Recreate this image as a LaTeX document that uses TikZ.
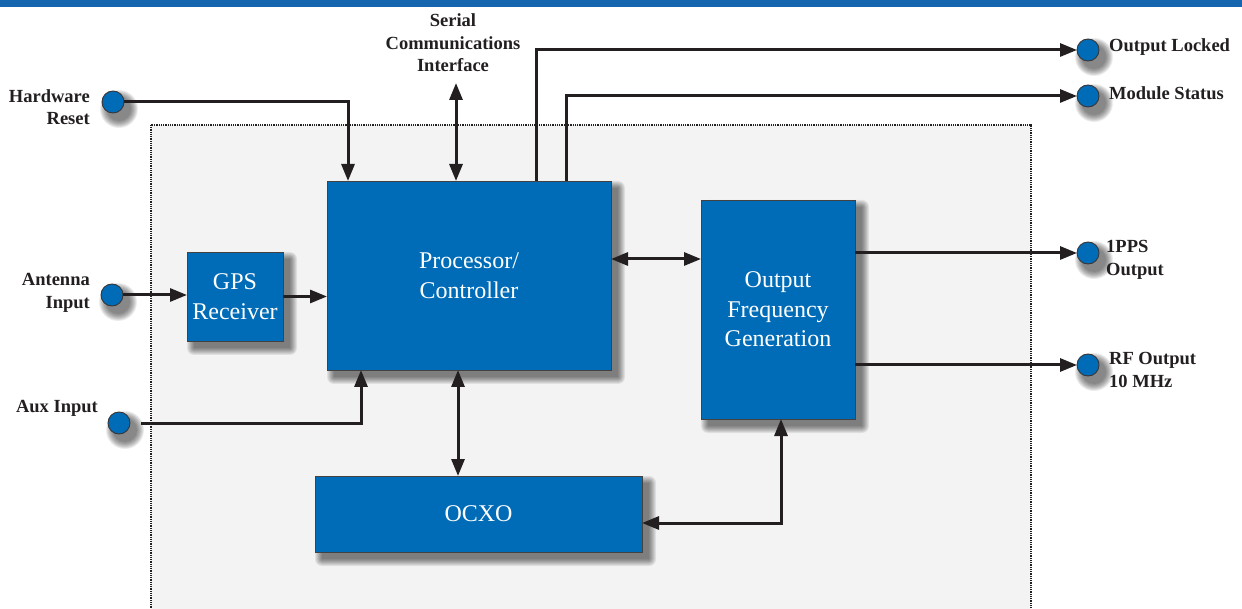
\documentclass[tikz,border=0pt]{standalone}
\usepackage{fontspec}
\setmainfont{Liberation Serif}
\usetikzlibrary{arrows.meta,calc}
\definecolor{boxblue}{RGB}{0,108,183}
\definecolor{bandblue}{RGB}{21,101,175}
\definecolor{ink}{RGB}{35,31,32}
\definecolor{panelgray}{RGB}{243,243,243}
\pgfdeclarelayer{back}
\pgfdeclarelayer{shadowlayer}
\pgfsetlayers{back,shadowlayer,main}
\begin{document}
\begin{tikzpicture}[x=1pt,y=-1pt,
  blk/.style={draw=ink!85, line width=0.9pt, fill=boxblue, text=white,
    font=\fontsize{24}{29.5}\selectfont, align=center, inner sep=0pt, outer sep=0pt,
    anchor=north west},
  port/.style={circle, draw=ink!90, line width=0.9pt, fill=boxblue, minimum size=22pt,
    inner sep=0pt, outer sep=0pt},
  lbl/.style={font=\fontsize{18.5}{22.5}\selectfont\bfseries, text=ink, inner sep=0pt},
  wire/.style={draw=ink, line width=3pt},
  tip/.tip={Triangle[length=17pt,width=13pt]},
  arr/.style={wire, -tip},
  darr/.style={wire, tip-tip},
  shadestep/.style={fill=black, opacity=0.075}
]
\useasboundingbox (0,0) rectangle (1242,609);
\begin{scope}
\clip (0,0) rectangle (1242,609);
\begin{pgfonlayer}{back}
\fill[white] (0,0) rectangle (1242,609);
\fill[bandblue] (0,0) rectangle (1242,7);
\draw[ink, line width=2pt, dash pattern=on 1pt off 0.8pt, fill=panelgray] (151,125) rectangle (1031,650);
\end{pgfonlayer}

% blocks
\node[blk, minimum width=284pt, minimum height=189pt] (proc) at (327,181) {Processor/\\Controller};
\node[blk, minimum width=96pt, minimum height=89pt] (gps) at (187,252) {GPS\\Receiver};
\node[blk, minimum width=154pt, minimum height=219pt] (ofg) at (701,200) {Output\\Frequency\\Generation};
\node[blk, minimum width=327pt, minimum height=76pt] (ocxo) at (315,476) {OCXO};

% ports
\node[port] (hw) at (113,102) {};
\node[port] (ant) at (112,295) {};
\node[port] (aux) at (119,423) {};
\node[port] (lock) at (1088,50) {};
\node[port] (mod) at (1088,96) {};
\node[port] (pps) at (1088,253) {};
\node[port] (rf) at (1088,365) {};
\coordinate (sci) at (456,83);

% soft shadows
\begin{pgfonlayer}{shadowlayer}
\foreach \n in {proc,gps,ofg,ocxo}{
  \foreach \k in {0,...,7}{
    \pgfmathsetmacro{\e}{7-\k}
    \fill[shadestep, rounded corners=\e pt]
      ($(\n.north west)+(7-\e,7-\e)$) rectangle ($(\n.south east)+(7+\e,7+\e)$);
  }
}
\foreach \n in {hw,ant,aux,lock,mod,pps,rf}{
  \foreach \k in {0,...,7}{
    \pgfmathsetmacro{\r}{11+8-\k}
    \fill[shadestep] ($(\n)+(6,7)$) circle[radius=\r];
  }
}
\end{pgfonlayer}

% labels
\node[lbl, align=right, anchor=east] (lhw) at (90,107) {Hardware\\Reset};
\node[lbl, align=right, anchor=east] (lant) at (90,293) {Antenna\\Input};
\node[lbl, anchor=base east] (laux) at (98,412) {Aux Input};
\node[lbl, align=center] (lsci) at (453,43) {Serial\\Communications\\Interface};
\node[lbl, anchor=base west] (llock) at (1109,52) {Output Locked};
\node[lbl, anchor=base west] (lmod) at (1109,100) {Module Status};
\node[lbl, align=left, anchor=west] (lpps) at (1106,260) {1PPS\\Output};
\node[lbl, align=left, anchor=west] (lrf) at (1109,370) {RF Output\\10 MHz};

% helper coordinates on block edges
\coordinate (phw) at ($(proc.north west)+(21,0)$);
\coordinate (plock) at ($(proc.north west)+(209,0)$);
\coordinate (pmod) at ($(proc.north west)+(239,0)$);
\coordinate (paux) at ($(proc.south west)+(34,0)$);
\coordinate (pocx) at ($(proc.south west)+(131,0)$);
\coordinate (pofg) at ($(proc.north east)+(0,78)$);
\coordinate (auxs) at ($(aux.east)+(11,0)$);
\coordinate (ocxr) at ($(ocxo.east)+(0,9)$);
\coordinate (ofgb) at ($(ofg.south west)+(80,0)$);
\coordinate (ofgp) at ($(ofg.north east)+(0,53)$);
\coordinate (ofgr) at ($(ofg.north east)+(0,165)$);

% connectors
\draw[arr] (hw.east) -| (phw);
\draw[darr] (sci) -- (sci |- proc.north);
\draw[arr] (plock) |- (lock.west);
\draw[arr] (pmod) |- (mod.west);
\draw[arr] (ant.east) -- (ant.east -| gps.west);
\draw[arr] (gps.east) -- (gps.east -| proc.west);
\draw[arr] (auxs) -| (paux);
\draw[darr] (pocx) -- (pocx |- ocxo.north);
\draw[darr] (pofg) -- (pofg -| ofg.west);
\draw[darr] (ocxr) -| (ofgb);
\draw[arr] (ofgp) -- (pps.west);
\draw[arr] (ofgr) -- (rf.west);
\end{scope}
\end{tikzpicture}
\end{document}
